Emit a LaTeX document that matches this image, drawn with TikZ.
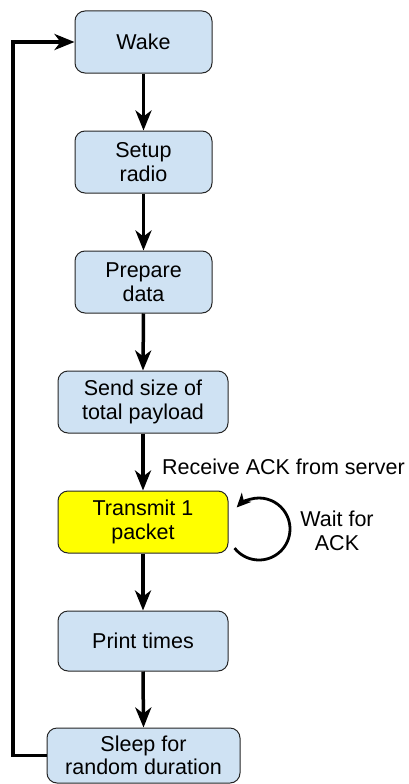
\documentclass[tikz,border=0pt]{standalone}
\usepackage{fontspec}
\setmainfont{Liberation Sans}
\usetikzlibrary{arrows.meta}
\definecolor{boxblue}{HTML}{CFE2F3}
\definecolor{boxyellow}{HTML}{FFFF00}
\begin{document}
\begin{tikzpicture}[x=1pt,y=-1pt,
  stepbox/.style={draw=black!85, line width=1pt, rounded corners=10pt,
    fill=boxblue, align=center, inner sep=0pt,
    font=\fontsize{21.5}{23.5}\selectfont},
  flow/.style={line width=3.5pt, -{Stealth[length=20pt,width=16pt,inset=6pt]}},
  lbl/.style={font=\fontsize{21.5}{23.5}\selectfont, align=center, inner sep=0pt}]
  \useasboundingbox (0,0) rectangle (409,784);

  % process steps
  \node[stepbox, minimum width=137pt, minimum height=62pt] (wake)  at (143.5,42)  {Wake};
  \node[stepbox, minimum width=137pt, minimum height=62pt] (setup) at (143.5,162) {Setup\\radio};
  \node[stepbox, minimum width=137pt, minimum height=62pt] (prep)  at (143.5,282) {Prepare\\data};
  \node[stepbox, minimum width=170pt, minimum height=62pt] (send)  at (143,402)   {Send size of\\total payload};
  \node[stepbox, minimum width=170pt, minimum height=62pt, fill=boxyellow] (tx) at (143,522) {Transmit 1\\packet};
  \node[stepbox, minimum width=170pt, minimum height=60pt] (print) at (143,641)   {Print times};
  \node[stepbox, minimum width=193pt, minimum height=55pt] (sleep) at (143.5,755.5) {Sleep for\\random duration};

  % main flow
  \draw[flow] (wake.south)  -- (setup.north);
  \draw[flow] (setup.south) -- (prep.north);
  \draw[flow] (prep.south)  -- (send.north);
  \draw[flow] (send.south)  -- (tx.north);
  \draw[flow] (tx.south)    -- (print.north);
  \draw[flow] (print.south) -- (sleep.north);

  \node[lbl, anchor=west] (ackl) at (162,467) {Receive ACK from server};

  % return loop
  \coordinate (loopc) at (13,755.5);
  \draw[flow] (sleep.west) -- (loopc) |- (wake.west);

  % waiting for acknowledgement: circle from lower left round the right side to upper left
  \coordinate (wcen) at (259,529);
  \draw[line width=2.8pt, -{Stealth[length=14pt,width=13pt,inset=4pt]}]
    ([shift={(-142:31pt)}]wcen) arc[start angle=-142, end angle=136, radius=31pt];
  \node[lbl] (wait) at (337,531) {Wait for\\ACK};
\end{tikzpicture}
\end{document}
